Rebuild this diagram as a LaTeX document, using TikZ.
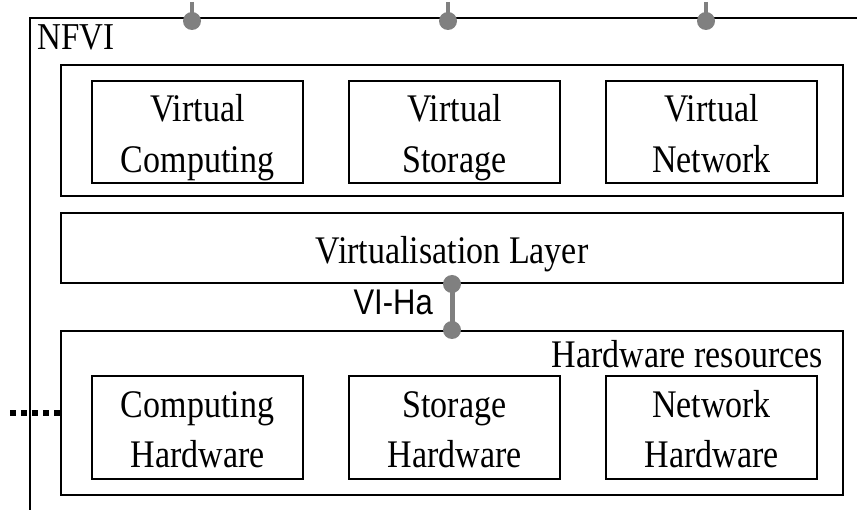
\documentclass[tikz,border=0pt]{standalone}
\usepackage{fontspec}
\setmainfont{Liberation Serif}
\newfontfamily\labelsans{Liberation Sans}
\usepackage{graphicx}
\usepackage{tikz}
\usetikzlibrary{positioning}
% the source letters are drawn a little taller than wide
\newcommand{\tall}[1]{\scalebox{1}[1.15]{#1}}
\newcommand{\tallbox}[1]{\raisebox{-5pt}[\height][\depth]{\tall{\begin{tabular}{@{}c@{}}#1\end{tabular}}}}
\tikzset{unit box/.style={draw, line width=2pt, inner sep=0pt,
    minimum width=211pt, minimum height=102pt, font=\fontsize{34}{44}\selectfont}}
\tikzset{layer box/.style={draw, line width=2pt, inner sep=0pt,
    minimum width=782pt, font=\fontsize{34}{44}\selectfont}}
\tikzset{ref dot/.style={circle, fill=gray, inner sep=0pt, minimum size=18pt}}
\tikzset{ref line/.style={draw=gray, line width=5pt}}

\begin{document}
\begin{tikzpicture}[x=1pt, y=-1pt]
    \useasboundingbox (0,0) rectangle (857,510);

    % NFVI frame, open to the right and the bottom
    \draw[line width=2.4pt] (30,510) -- (30,18) -- (857,18);
    \node[anchor=base west, inner sep=0pt, font=\fontsize{33}{40}\selectfont]
        (nfvi) at (37,50) {\tall{NFVI}};

    % reference points on the top edge
    \foreach \x [count=\i] in {192,448,706} {
        \coordinate (edge\i) at (\x,2);
        \node[ref dot] (tdot\i) at (\x,21) {};
        \draw[ref line, line width=4pt] (edge\i) -- (tdot\i.center);
    }

    % virtual resources
    \node[layer box, minimum height=131pt] (virt) at (452,130.5) {};
    \node[unit box] (vcomp) at (197.5,132) {\tallbox{Virtual\\Computing}};
    \node[unit box, right=44pt of vcomp] (vstor) {\tallbox{Virtual\\Storage}};
    \node[unit box, right=44pt of vstor] (vnet) {\tallbox{Virtual\\Network}};

    \node[layer box, minimum height=70pt] (vlayer) at (452,248)
        {\tallbox{Virtualisation Layer}};

    % hardware resources
    \node[layer box, minimum height=164pt] (hw) at (452,413) {};
    \node[anchor=base east, inner sep=0pt, font=\fontsize{34}{44}\selectfont]
        (hwlabel) at (823,368) {\tall{Hardware resources}};
    \node[unit box] (hcomp) at (197.5,427.5) {\tallbox{Computing\\Hardware}};
    \node[unit box, right=44pt of hcomp] (hstor) {\tallbox{Storage\\Hardware}};
    \node[unit box, right=44pt of hstor] (hnet) {\tallbox{Network\\Hardware}};

    % VI-Ha reference point
    \node[ref dot] (vtop) at (vlayer.south) {};
    \node[ref dot] (vbot) at (hw.north) {};
    \draw[ref line] (vtop.center) -- (vbot.center);
    \node[anchor=base east, inner sep=0pt, font=\labelsans\fontsize{31}{36}\selectfont]
        (viha) at (433,315) {\tall{VI-Ha}};

    % link leaving the hardware box
    \coordinate (ext) at (10,413);
    \draw[line width=6pt, dash pattern=on 6pt off 5pt] (ext) -- (ext -| hw.west);
\end{tikzpicture}
\end{document}
